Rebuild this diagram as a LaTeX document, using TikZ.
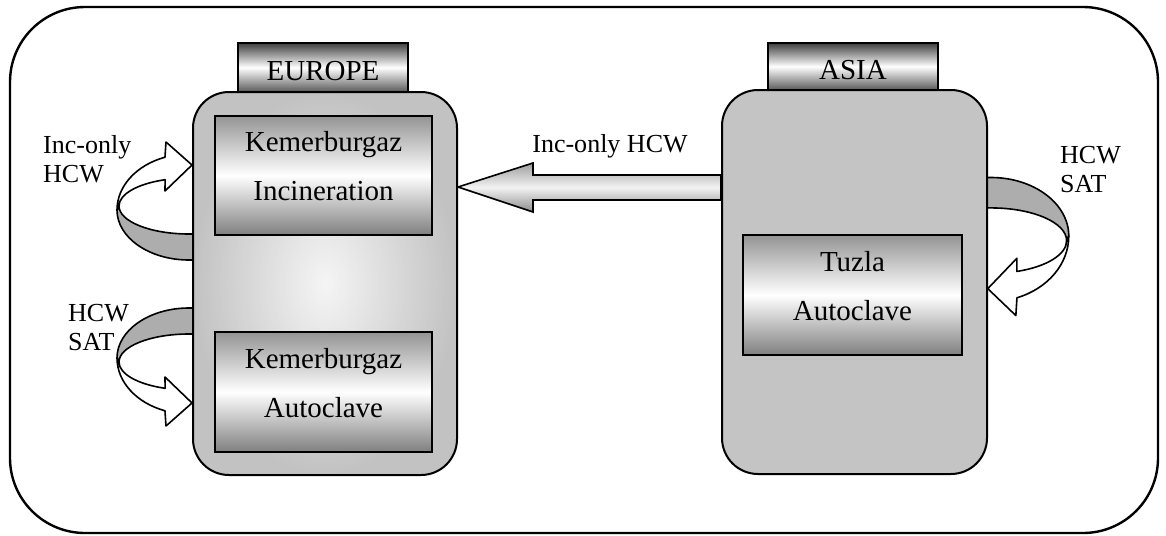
\documentclass[tikz,border=0pt]{standalone}
\usepackage{fontspec}
\setmainfont{Liberation Serif}
\usetikzlibrary{calc}
\pgfdeclarelayer{background}
\pgfsetlayers{background,main}

% Curved self-loop arrow: a grey back band under the ring and a white front band with its head.
% Local origin: 3 units left of the box edge, at the centre of the ring.
\newcommand{\loopArrow}{%
  \filldraw[band, fill=black!32]
    (-70,-4) arc[start angle=180, end angle=90, x radius=70, y radius=28]
    -- (14,24) -- (14,50) -- (0,50)
    arc[start angle=90, end angle=180, x radius=72, y radius=50] -- cycle;
  \filldraw[band, fill=white]
    (-72,0) arc[start angle=180, end angle=250.5, x radius=72, y radius=56]
    -- (-23,-68) -- (3,-45) -- (-24,-19) -- (-23.9,-30.3)
    arc[start angle=250.05, end angle=180, x radius=70, y radius=28] -- cycle;
}

\begin{document}
\begin{tikzpicture}[x=1pt, y=-1pt,
  frame/.style={draw=black, line width=2.4pt, rounded corners=75pt},
  region/.style={draw=black, line width=2pt, rounded corners=36pt, inner sep=0pt},
  tab/.style={draw=black, line width=1.6pt, top color=black!75,
    bottom color=black!65, middle color=white, font=\fontsize{29}{35}\selectfont,
    text height=25pt, text depth=0pt, inner sep=0pt},
  plant/.style={draw=black, line width=2pt, top color=black!42,
    bottom color=black!50, middle color=white, inner sep=0pt},
  boxtext/.style={font=\fontsize{29}{49}\selectfont, align=center, inner sep=0pt},
  note/.style={font=\fontsize{26}{29}\selectfont, align=left, inner sep=0pt},
  band/.style={draw=black, line width=1.6pt, line join=round},
  flow/.style={draw=black, line width=1.6pt, line join=miter, top color=black!38,
    bottom color=black!45, middle color=black!5},
]
\begin{pgfonlayer}{background}
  \fill[white] (0,0) rectangle (1166,535);
\end{pgfonlayer}
\useasboundingbox (0,0) rectangle (1166,535);

% outer frame
\draw[frame] (10,7) rectangle (1158,533);

% European side
\node[tab, minimum width=170pt, minimum height=49pt] (europeTab) at (323,67.5) {EUROPE};
\node[region, inner color=black!4, outer color=black!24, minimum width=264pt,
  minimum height=383pt] (europe) at (325,283.5) {};
\node[plant, minimum width=217pt, minimum height=119pt] (incin) at (323.5,175.5) {};
\node[plant, minimum width=217pt, minimum height=120pt] (kauto) at (323.5,392) {};
\node[boxtext] (incinText) at ($(incin.center)+(0,-9)$) {Kemerburgaz\\Incineration};
\node[boxtext] (kautoText) at ($(kauto.center)+(0,-8.5)$) {Kemerburgaz\\Autoclave};

% Asian side
\node[tab, minimum width=170pt, minimum height=47pt] (asiaTab) at (853,66.5) {ASIA};
\node[region, fill=black!23, minimum width=265pt, minimum height=384pt] (asia) at (854.5,282) {};
\node[plant, minimum width=219pt, minimum height=120pt] (tuzla) at (852.5,295) {};
\node[boxtext] (tuzlaText) at ($(tuzla.center)+(0,-8.5)$) {Tuzla\\Autoclave};

% transfer between the two sides and the loops at each site
\begin{pgfonlayer}{background}
  \filldraw[flow] (europe.east |- 0,187) -- (533,163) -- (533,175) -- (asia.west |- 0,175)
    -- (asia.west |- 0,200) -- (533,200) -- (533,212) -- cycle;
  \begin{scope}[shift={($(europe.west |- 0,210)+(-3,0)$)}]
    \loopArrow
  \end{scope}
  \begin{scope}[shift={($(europe.west |- 0,358)+(-3,0)$)}, yscale=-1]
    \loopArrow
  \end{scope}
  \begin{scope}[shift={($(asia.east |- 0,236)+(3,0)$)}, xscale=-1.08, yscale=-1.17]
    \loopArrow
  \end{scope}
\end{pgfonlayer}

\node[font=\fontsize{26}{29}\selectfont, anchor=base, inner sep=0pt] (flowLabel) at (610,152) {Inc-only HCW};
\node[note, anchor=north west] (incLabel) at (43,135) {Inc-only\\HCW};
\node[note, anchor=north west] (satLeft) at (68,304) {HCW\\SAT};
\node[note, anchor=north west] (satRight) at (1060,146) {HCW\\SAT};
\end{tikzpicture}
\end{document}
